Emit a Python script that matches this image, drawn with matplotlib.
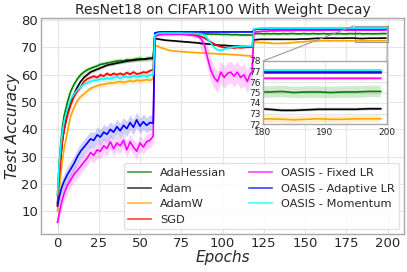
import numpy as np
import matplotlib
matplotlib.use("Agg")
import matplotlib.pyplot as plt
from mpl_toolkits.axes_grid1.inset_locator import mark_inset

# ---------------- data ----------------
epochs_p1 = [0, 1, 2, 3, 4] + list(range(6, 59, 2))
epochs_p2 = list(range(59, 118, 2)) + [118]
epochs_p3 = list(range(119, 200, 2))
epochs = np.array(epochs_p1 + epochs_p2 + epochs_p3)

labels = ["AdaHessian", "Adam", "AdamW", "SGD",
          "OASIS - Fixed LR", "OASIS - Adaptive LR", "OASIS - Momentum"]
colors = ["green", "black", "orange", "red", "magenta", "blue", "cyan"]

adahessian = (
    [16, 27, 35, 41, 45, 50, 54, 56.5, 58.5, 60, 61, 61.8, 62.3, 62.8, 63.2, 63.8,
     64, 64.3, 64.5, 64.8, 65, 65.2, 65.1, 65.5, 65.4, 65.6, 65.8, 66, 65.7, 66, 66.1, 66]
    + [75.2, 75.5, 75.5, 75.4, 75.5, 75.4, 75.4, 75.3, 75.3, 75.3, 75.2, 75.2, 75.1, 75.1,
       75.0, 75.0, 75.0, 74.9, 74.9, 74.9, 74.8, 74.8, 74.8, 74.7, 74.7, 74.7, 74.6, 74.6,
       74.6, 74.6, 74.6]
    + [75.0, 75.1, 75.1, 75.0, 75.1, 75.0, 75.1, 75.0, 75.0, 75.1, 75.0, 75.1, 75.1, 75.0,
       75.0, 75.1, 75.0, 75.0, 75.1, 75.0, 75.0, 75.1, 75.0, 75.0, 75.1, 75.0, 75.1, 75.0,
       75.0, 75.1, 75.05, 75.05, 75.1, 75.0, 75.05, 75.05, 75.0, 75.05, 75.05, 75.1, 75.1])
adam = (
    [13, 22, 30, 36, 40, 46, 50, 53, 55.5, 57.5, 59, 60, 61, 61.5, 62, 62.5, 63, 63.5,
     63.8, 64, 64.3, 64.5, 64.8, 65, 65.2, 65.3, 65.5, 65.6, 65.7, 65.8, 66, 66]
    + [73.3, 73.1, 72.9, 72.7, 72.6, 72.5, 72.4, 72.3, 72.2, 72.1, 72.0, 71.9, 71.8, 71.7,
       71.5, 71.4, 71.3, 71.2, 71.0, 70.9, 70.8, 70.8, 70.7, 70.6, 70.5, 70.5, 70.4, 70.4,
       70.3, 70.3, 70.3]
    + [72.8, 72.9, 73.0, 73.0, 73.0, 73.0, 73.0, 73.0, 73.0, 73.0, 73.0, 73.0, 73.0, 73.0,
       73.1, 73.1, 73.1, 73.2, 73.3, 73.35, 73.4, 73.4, 73.4, 73.4, 73.45, 73.4, 73.4, 73.4,
       73.45, 73.45, 73.45, 73.4, 73.3, 73.3, 73.35, 73.4, 73.4, 73.4, 73.4, 73.45, 73.45])
adamw = (
    [10, 17, 24, 29, 33, 39, 45, 48, 50.5, 52, 53, 54, 55, 55.5, 56, 56.3, 56.5, 56.8, 57,
     57, 57.3, 57.5, 57.2, 57.5, 57.8, 57.5, 58, 57.8, 58, 58.2, 58, 58.5]
    + [70.8, 70.4, 69.9, 69.5, 69.1, 68.8, 68.7, 68.6, 68.5, 68.4, 68.3, 68.2, 68.2, 68.1,
       68.0, 68.0, 67.9, 67.8, 67.8, 67.7, 67.6, 67.6, 67.5, 67.4, 67.4, 67.3, 67.2, 67.1,
       67.0, 66.9, 66.8]
    + [72.0, 71.9, 71.8, 71.8, 71.7, 71.6, 71.5, 71.5, 71.5, 71.6, 71.6, 71.7, 71.8, 71.9,
       72.0, 72.1, 72.2, 72.3, 72.4, 72.4, 72.4, 72.5, 72.5, 72.4, 72.5, 72.5, 72.4, 72.5,
       72.5, 72.45, 72.4, 72.5, 72.45, 72.4, 72.45, 72.5, 72.45, 72.45, 72.5, 72.5, 72.5])
sgd = (
    [12, 22, 30, 36, 40, 45, 49, 52, 54, 55.5, 57.5, 58.5, 59, 59.5, 59, 60, 59.5, 60.5,
     59.8, 60.5, 60, 60.5, 60, 60.8, 60.2, 61, 60.3, 60.5, 61, 60.8, 61.5, 61.8]
    + [74.8, 75.0, 75.1, 75.1, 75.0, 75.0, 75.1, 75.0, 75.0, 75.0, 74.9, 74.8, 74.6, 74.3,
       74.0, 73.5, 72.8, 72.0, 71.3, 70.7, 70.3, 70.0, 69.8, 70.0, 69.8, 70.0, 69.9, 70.0,
       70.1, 70.1, 70.2]
    + [76.5, 76.7, 76.8, 76.8, 76.85, 76.85, 76.85, 76.85, 76.85, 76.85, 76.85, 76.85,
       76.85, 76.85, 76.85, 76.85, 76.85, 76.85, 76.85, 76.85, 76.85, 76.85, 76.85, 76.85,
       76.85, 76.85, 76.85, 76.85, 76.85, 76.85, 76.85, 76.85, 76.85, 76.85, 76.85, 76.85,
       76.85, 76.85, 76.85, 76.85, 76.85])
oasis_fixed = (
    [6, 9, 12, 14.5, 16.5, 19.5, 21.5, 23.5, 25, 26.5, 28, 29.5, 31.5, 30.5, 32.5, 32, 34,
     33, 35.5, 33, 35, 34, 36, 32.5, 35.5, 33.5, 32, 35, 33.5, 35.5, 36, 37.5]
    + [74.0, 74.5, 74.7, 74.8, 74.8, 74.8, 74.8, 74.8, 74.8, 74.7, 74.6, 74.5, 74.3, 74.0,
       73.2, 71.0, 66.0, 61.5, 59.0, 57.5, 61.0, 59.0, 60.5, 61.0, 59.5, 61.0, 59.0, 60.0,
       57.5, 60.5, 61.0]
    + [75.5, 75.8, 75.9, 76.0, 76.0, 76.1, 76.1, 76.1, 76.2, 76.2, 76.2, 76.2, 76.2, 76.3,
       76.3, 76.3, 76.3, 76.3, 76.3, 76.3, 76.3, 76.3, 76.35, 76.35, 76.35, 76.35, 76.35,
       76.35, 76.35, 76.35, 76.35, 76.35, 76.35, 76.35, 76.35, 76.35, 76.35, 76.35, 76.35,
       76.35, 76.35])
oasis_adaptive = (
    [12, 15, 17.5, 19.5, 21, 23.5, 25.5, 27.5, 30, 32, 33.5, 35, 36.5, 36, 38, 37.2, 39,
     38.2, 40, 39, 41, 39.5, 41.5, 40.3, 42.5, 40.8, 43.5, 41.2, 42.8, 41.5, 42.5, 42.3]
    + [75.3, 75.6, 75.7, 75.7, 75.7, 75.7, 75.7, 75.7, 75.7, 75.7, 75.7, 75.7, 75.7, 75.7,
       75.7, 75.7, 75.7, 75.7, 75.7, 75.7, 75.7, 75.7, 75.7, 75.7, 75.7, 75.7, 75.7, 75.7,
       75.7, 75.7, 75.7]
    + [76.5, 76.8, 76.9, 76.9, 76.9, 76.95, 76.95, 76.95, 76.95, 76.95, 76.95, 76.95,
       76.95, 76.95, 76.95, 76.95, 76.95, 76.95, 76.95, 76.95, 76.95, 76.95, 76.95, 76.95,
       76.95, 76.95, 76.95, 76.95, 76.95, 76.95, 76.95, 76.95, 76.95, 76.95, 76.95, 76.95,
       76.95, 76.95, 76.95, 76.95, 76.95])
oasis_momentum = (
    [16, 27, 34, 39, 43, 47.5, 51, 53, 54.5, 55.5, 56.5, 57, 57.5, 58, 58, 58.5, 58.3, 58.8,
     58.5, 59, 59.2, 58.8, 59.3, 59.2, 59, 59.6, 59.3, 59.5, 59.8, 59.4, 59.9, 60]
    + [74.6, 75.2, 75.3, 75.3, 75.3, 75.3, 75.3, 75.3, 75.3, 75.2, 75.2, 75.2, 75.1, 75.1,
       75.0, 74.5, 73.2, 71.5, 70.0, 69.1, 69.0, 69.3, 69.7, 70.0, 70.2, 70.3, 70.4, 70.4,
       70.5, 70.5, 70.5]
    + [76.8, 77.0, 77.1, 77.1, 77.1, 77.1, 77.1, 77.1, 77.1, 77.1, 77.1, 77.1, 77.1, 77.1,
       77.1, 77.1, 77.1, 77.1, 77.1, 77.1, 77.1, 77.1, 77.1, 77.1, 77.1, 77.1, 77.1, 77.1,
       77.1, 77.1, 77.1, 77.1, 77.1, 77.1, 77.1, 77.1, 77.1, 77.1, 77.1, 77.1, 77.1])

# spread (std) per segment: [epochs 0-58, 59-85, 87-118, 119-199]
segment_counts = [32, 14, 17, 41]
std_adahessian = [1.0, 0.5, 0.5, 0.55]
std_adam = [0.5, 0.3, 0.3, 0.15]
std_adamw = [1.0, 0.3, 0.3, 0.35]
std_sgd = [0.8, 0.3, 0.3, 0.1]
std_oasis_fixed = [2.8, 0.5, 4.0, 0.15]
std_oasis_adaptive = [2.8, 0.2, 0.2, 0.1]
std_oasis_momentum = [1.0, 0.3, 0.3, 0.1]

series = [adahessian, adam, adamw, sgd, oasis_fixed, oasis_adaptive, oasis_momentum]
stds = [std_adahessian, std_adam, std_adamw, std_sgd,
        std_oasis_fixed, std_oasis_adaptive, std_oasis_momentum]
for s in series:
    assert len(s) == len(epochs), (len(s), len(epochs))

# ---------------- style ----------------
txt = "#262626"
plt.rcParams.update({
    "font.family": "DejaVu Sans",
    "text.color": txt,
    "axes.labelcolor": txt,
    "xtick.color": txt,
    "ytick.color": txt,
})

fig = plt.figure(figsize=(4.07, 2.72), dpi=100)
ax = fig.add_axes([41 / 407, 1 - 234 / 272, 363 / 407, 216 / 272])
axins = fig.add_axes([263 / 407, 1 - 124 / 272, 124 / 407, 63 / 272])

for a in (ax, axins):
    a.set_facecolor("white")
    a.grid(True, color="#e6e6e6", linewidth=0.8)
    a.set_axisbelow(True)
    for sp in a.spines.values():
        sp.set_color("#a8a8a8")
        sp.set_linewidth(1.0)
    a.tick_params(length=0)

for vals, sd, col, lab in zip(series, stds, colors, labels):
    v = np.array(vals, dtype=float)
    s = np.repeat(sd, segment_counts)
    for a in (ax, axins):
        a.fill_between(epochs, v - s, v + s, color=col, alpha=0.18, linewidth=0)
        a.plot(epochs, v, color=col, linewidth=1.2, label=lab if a is ax else None)

ax.set_xlim(-10, 210)
ax.set_ylim(1.7, 80.8)
ax.set_xticks([0, 25, 50, 75, 100, 125, 150, 175, 200])
ax.set_yticks([10, 20, 30, 40, 50, 60, 70, 80])
ax.tick_params(labelsize=9.5, pad=2)
ax.set_xlabel("Epochs", fontsize=11, style="italic", labelpad=0)
ax.set_ylabel("Test Accuracy", fontsize=11, style="italic", labelpad=1)
ax.set_title("ResNet18 on CIFAR100 With Weight Decay", fontsize=10, pad=3)

axins.set_xlim(180, 200)
axins.set_ylim(72, 78)
axins.set_xticks([180, 190, 200])
axins.set_yticks([72, 73, 74, 75, 76, 77, 78])
axins.tick_params(axis="y", labelsize=6.5, pad=1.5)
axins.tick_params(axis="x", labelsize=6.5, pad=3)
mark_inset(ax, axins, loc1=1, loc2=2, fc="none", ec="0.6", lw=0.8)

leg = ax.legend(loc="lower right", ncol=2, fontsize=8.2, frameon=True,
                fancybox=True, framealpha=0.85, edgecolor="#dddddd",
                borderaxespad=0.4)
for h in leg.get_lines():
    h.set_alpha(0.75)

fig.savefig("out.png", dpi=100)
